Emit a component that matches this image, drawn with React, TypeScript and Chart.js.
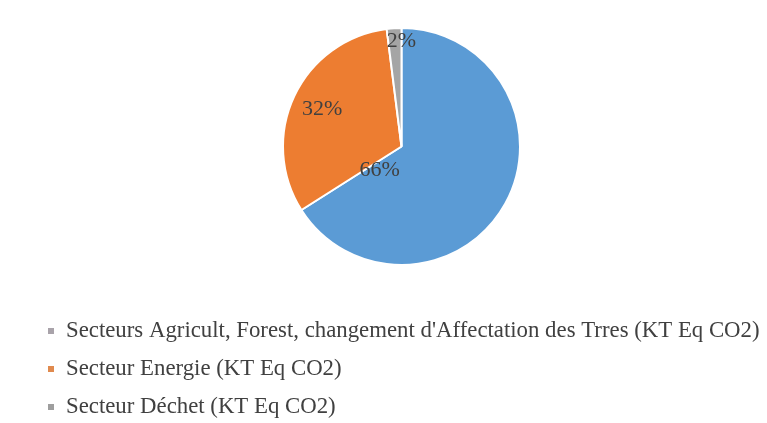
import React, { useEffect, useRef } from "react";
import { Chart, registerables } from "chart.js";

Chart.register(...registerables);

const categories = [
  "Secteurs Agricult, Forest, changement d'Affectation des Trres (KT Eq CO2)",
  "Secteur Energie (KT Eq CO2)",
  "Secteur Déchet (KT Eq CO2)",
];
const shares = [66, 32, 2];
const sliceColors = ["#5B9BD5", "#ED7D31", "#A5A5A5"];
const legendMarkerColors = ["#a9a3aa", "#e08a4e", "#9e9e9e"];

const FONT = "'Liberation Serif', 'Times New Roman', serif";

const sliceLabelPlugin = {
  id: "sliceLabels",
  afterDatasetsDraw(chart: any, _args: any, opts: any) {
    const ctx = chart.ctx;
    const meta = chart.getDatasetMeta(0);
    const values = chart.data.datasets[0].data as number[];
    const total = values.reduce((a, b) => a + b, 0);
    ctx.save();
    ctx.font = `${opts.size}px ${FONT}`;
    ctx.fillStyle = opts.color;
    ctx.textAlign = "center";
    ctx.textBaseline = "middle";
    meta.data.forEach((arc: any, i: number) => {
      const p = arc.getProps(["x", "y", "startAngle", "endAngle", "outerRadius"], true);
      const place = opts.placements[i];
      const ang = p.startAngle + (p.endAngle - p.startAngle) * place.a;
      const r = p.outerRadius * place.r;
      const x = p.x + Math.cos(ang) * r;
      const y = p.y + Math.sin(ang) * r;
      ctx.fillText(Math.round((values[i] / total) * 100) + "%", x, y);
    });
    ctx.restore();
  },
};

const listLegendPlugin = {
  id: "listLegend",
  afterDraw(chart: any, _args: any, opts: any) {
    const ctx = chart.ctx;
    const labels = chart.data.labels as string[];
    ctx.save();
    ctx.font = `${opts.size}px ${FONT}`;
    ctx.textAlign = "left";
    ctx.textBaseline = "middle";
    labels.forEach((lab, i) => {
      const y = opts.top + i * opts.lineGap;
      ctx.fillStyle = opts.markerColors[i];
      ctx.fillRect(opts.markerX, y - opts.marker / 2, opts.marker, opts.marker);
      ctx.fillStyle = opts.color;
      ctx.fillText(lab, opts.textX, y);
    });
    ctx.restore();
  },
};

export default function App() {
  const ref = useRef<HTMLCanvasElement | null>(null);
  useEffect(() => {
    document.body.style.margin = "0";
    const chart = new Chart(ref.current!, {
      type: "pie",
      data: {
        labels: categories,
        datasets: [
          {
            data: shares,
            backgroundColor: sliceColors,
            borderColor: "#ffffff",
            borderWidth: 2,
          },
        ],
      },
      options: {
        animation: false,
        responsive: false,
        devicePixelRatio: 1,
        layout: { padding: { top: 27, bottom: 157, left: 36, right: 0 } },
        plugins: {
          legend: { display: false },
          tooltip: { enabled: false },
          sliceLabels: {
            size: 22,
            color: "#404040",
            placements: [
              { a: 0.94, r: 0.27 },
              { a: 0.5, r: 0.74 },
              { a: 1.0, r: 0.89 },
            ],
          },
          listLegend: {
            size: 22.8,
            color: "#404040",
            markerColors: legendMarkerColors,
            markerX: 48,
            marker: 6,
            textX: 66,
            top: 331,
            lineGap: 38,
          },
        } as any,
      },
      plugins: [sliceLabelPlugin, listLegendPlugin],
    });
    return () => chart.destroy();
  }, []);
  return (
    <div style={{ position: "fixed", left: 0, top: 0, width: 767, height: 423, background: "#fff" }}>
      <canvas ref={ref} width={767} height={423} style={{ width: 767, height: 423, display: "block" }} />
    </div>
  );
}
